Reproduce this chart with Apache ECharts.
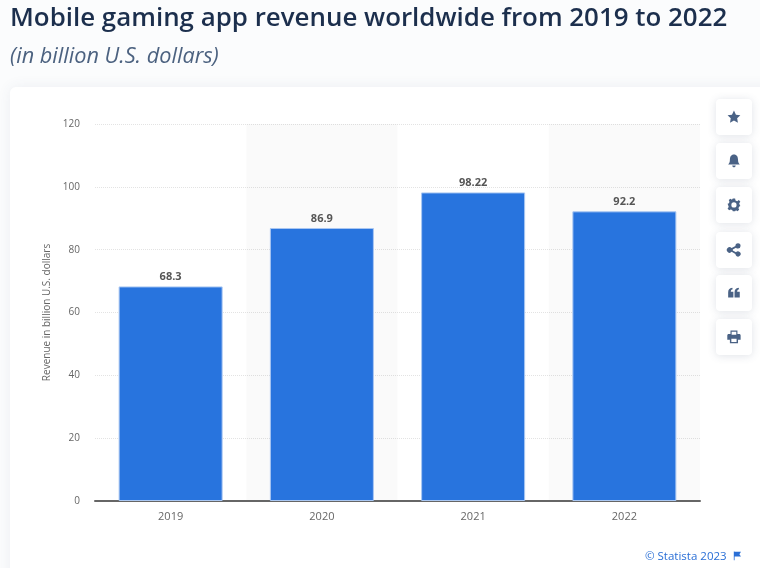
<!DOCTYPE html>
<html>
<head>
<meta charset="UTF-8">
<title>Mobile gaming app revenue</title>
<script src="https://cdn.jsdelivr.net/npm/echarts@6/dist/echarts.min.js"></script>
<style>
html,body{margin:0;padding:0;background:#fbfcfd;}
#main{width:760px;height:568px;}
</style>
</head>
<body>
<div id="main"></div>
<script type="text/javascript">
var categories = ['2019', '2020', '2021', '2022'];
var revenue = [68.3, 86.9, 98.22, 92.2];
var titleText = 'Mobile gaming app revenue worldwide from 2019 to 2022';
var subtitleText = '(in billion U.S. dollars)';
var axisName = 'Revenue in billion U.S. dollars';
var creditText = '© Statista 2023';

// side buttons, top edge of each and its icon (24 unit box)
var buttonTops = [99, 143, 187, 232, 275, 319];
var iconPaths = [
	'M12 1 L15.4 8 L23 9 L17.5 14.4 L18.8 22 L12 18.3 L5.2 22 L6.5 14.4 L1 9 L8.6 8 Z',
	'M12 1 C7 1 5 5 5 10 C5 14 4 16 2 18 L22 18 C20 16 19 14 19 10 C19 5 17 1 12 1 Z M9 20 L15 20 C15 22 13.5 23 12 23 C10.5 23 9 22 9 20 Z',
	'M10 1 L14 1 L14.7 4.2 L17.6 5.4 L20.4 3.6 L23 6.5 L21 9.2 L22 12 L23 14 L20.8 15 L19.8 17.5 L21 20.4 L18 22.8 L15.5 21 L14 23 L10 23 L9 20.8 L6.4 19.8 L3.6 21 L1 18 L3 15.5 L2 12.5 L1 10 L3.4 9 L4.2 6.5 L3 3.6 L6 1.2 L8.5 3 Z M12 7.5 A4.5 4.5 0 1 0 12 16.5 A4.5 4.5 0 1 0 12 7.5 Z',
	'M19 0.5 A4.5 4.5 0 1 1 15.5 8 L10 11 L10 13 L15.5 16 A4.5 4.5 0 1 1 14.5 19 L8 15.3 A4.8 4.8 0 1 1 8 8.7 L14.5 5 A4.5 4.5 0 0 1 19 0.5 Z',
	'M2 11 C2 6 4 4 9 3 L10 5.5 C7.5 6 6.5 7.5 6.5 10 L11 10 L11 20 L2 20 Z M13 11 C13 6 15 4 20 3 L21 5.5 C18.5 6 17.5 7.5 17.5 10 L22 10 L22 20 L13 20 Z',
	'M6 1 L18 1 L18 7 L21 7 C22.5 7 23.5 8 23.5 9.5 L23.5 17 L19 17 L19 23 L5 23 L5 17 L0.5 17 L0.5 9.5 C0.5 8 1.5 7 3 7 L6 7 Z M8 3 L8 8 L16 8 L16 3 Z M7.5 15 L7.5 20.5 L16.5 20.5 L16.5 15 Z'
];
var flagPath = 'M2 1 L4 1 L4 2 L20 2 L16 8 L20 14 L4 14 L4 23 L2 23 Z';

// the graphic component has no plain path type, so register the icons as shapes
for (var s = 0; s < iconPaths.length; s++) {
	echarts.graphic.registerShape('icon' + s, echarts.graphic.extendPath(iconPaths[s], {}));
}
echarts.graphic.registerShape('flagIcon', echarts.graphic.extendPath(flagPath, {}));

var sideButtons = [];
for (var i = 0; i < buttonTops.length; i++) {
	sideButtons.push({
		type: 'rect', z: 10,
		shape: {x: 716, y: buttonTops[i], width: 36, height: 36, r: 4},
		style: {fill: '#fff', shadowBlur: 8, shadowColor: 'rgba(60,80,110,0.16)', shadowOffsetY: 1}
	});
	sideButtons.push({
		type: 'icon' + i, z: 11,
		x: 727, y: buttonTops[i] + 11, scaleX: 0.58, scaleY: 0.58,
		style: {fill: '#4a6285'}
	});
}

var myChart = echarts.init(document.getElementById('main'));
var option = {
	animation: false,
	textStyle: {fontFamily: '"Open Sans"'},
	title: [
		{
			text: titleText, left: 10, top: 6, padding: 0,
			textStyle: {fontFamily: '"Open Sans"', fontSize: 25.9, fontWeight: 600, color: '#1c2f4d'}
		},
		{
			text: subtitleText, left: 10, top: 46, padding: 0,
			textStyle: {fontFamily: '"Open Sans"', fontSize: 21.7, fontWeight: 400, fontStyle: 'italic', color: '#4c6280'}
		}
	],
	graphic: [
		{
			type: 'rect', z: -1,
			shape: {x: 10, y: 87, width: 770, height: 500, r: 6},
			style: {fill: '#fff', shadowBlur: 14, shadowColor: 'rgba(60,80,110,0.08)'}
		},
		{
			type: 'text', z: 5, x: 645, y: 551,
			style: {text: creditText, fontFamily: '"Open Sans"', fontSize: 11.5, fill: '#2a6fd6'}
		},
		{
			type: 'flagIcon', z: 5,
			x: 733, y: 551, scaleX: 0.4, scaleY: 0.4,
			style: {fill: '#2a6fd6'}
		}
	].concat(sideButtons),
	grid: {left: 95, right: 60, top: 124, bottom: 67},
	xAxis: {
		type: 'category',
		data: categories,
		axisTick: {show: false},
		axisLine: {lineStyle: {color: '#666', width: 2}},
		axisLabel: {color: '#666', fontSize: 11, margin: 10},
		splitArea: {show: true, areaStyle: {color: ['rgba(0,0,0,0)', 'rgba(0,0,0,0.02)']}}
	},
	yAxis: {
		type: 'value',
		min: 0,
		max: 120,
		interval: 20,
		name: axisName,
		nameLocation: 'middle',
		nameGap: 40,
		nameTextStyle: {color: '#666', fontSize: 10},
		axisLine: {show: false},
		axisTick: {show: false},
		axisLabel: {color: '#666', fontSize: 10, margin: 15},
		splitLine: {lineStyle: {color: '#e3e3e3', type: 'dotted', width: 1}}
	},
	series: [{
		type: 'bar',
		data: revenue,
		barWidth: 104,
		itemStyle: {color: '#2874de', borderColor: '#a9c7f2', borderWidth: 1},
		label: {
			show: true,
			position: 'top',
			distance: 4,
			color: '#555',
			fontSize: 11,
			fontWeight: 700
		}
	}]
};
myChart.setOption(option);
</script>
</body>
</html>
